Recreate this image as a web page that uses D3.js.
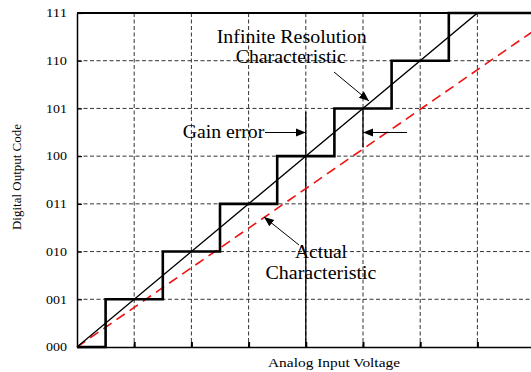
<!DOCTYPE html>
<html>
<head>
<meta charset="utf-8">
<script src="https://cdn.jsdelivr.net/npm/d3@7"></script>
<style>
  body { margin: 0; background: #fff; }
  svg { display: block; font-family: "Liberation Serif", "Times New Roman", serif; }
</style>
</head>
<body>
<svg width="531" height="372"></svg>
<script>
// output codes on the y axis
var codes = ["000", "001", "010", "011", "100", "101", "110", "111"];
// analog input in LSB units, grid at every LSB
var inputTicks = [0, 1, 2, 3, 4, 5, 6, 7, 8];
// ideal quantizer: code changes at half LSB points
var stepEdges = [0.5, 1.5, 2.5, 3.5, 4.5, 5.5, 6.5];
var idealLine = [[0, 0], [7, 7], [8, 7]];
var actualLine = [[0, 0], [8, 6.64]];

var svg = d3.select("svg"),
    width = +svg.attr("width"),
    height = +svg.attr("height");

var x = d3.scaleLinear().domain([0, 8]).range([77, 534.6]);
var y = d3.scaleLinear().domain([0, 7]).range([347, 13]);

// grid
var grid = svg.append("g")
    .attr("stroke", "#333")
    .attr("stroke-width", 1)
    .attr("stroke-dasharray", "4,2.5");

grid.selectAll("line.v")
  .data(inputTicks.slice(1))
  .enter().append("line")
    .attr("class", "v")
    .attr("x1", function(d) { return x(d); })
    .attr("x2", function(d) { return x(d); })
    .attr("y1", y(7))
    .attr("y2", y(0));

grid.selectAll("line.h")
  .data(d3.range(1, 7))
  .enter().append("line")
    .attr("class", "h")
    .attr("x1", x(0))
    .attr("x2", width)
    .attr("y1", function(d) { return y(d); })
    .attr("y2", function(d) { return y(d); });

// axes
var yAxis = d3.axisLeft(y)
    .tickValues(d3.range(0, 8))
    .tickFormat(function(d) { return codes[d]; })
    .tickSizeInner(-5)
    .tickSizeOuter(0)
    .tickPadding(10);

var gy = svg.append("g")
    .attr("transform", "translate(" + x(0) + ",0)")
    .call(yAxis);
gy.select(".domain").attr("stroke", "#000").attr("stroke-width", 1.5);
gy.selectAll(".tick line").attr("stroke", "#000").attr("stroke-width", 1.2);
gy.selectAll(".tick text")
    .attr("font-family", "Liberation Serif, serif")
    .attr("font-size", 12)
    .attr("fill", "#000")
    .attr("textLength", 21)
    .attr("lengthAdjust", "spacingAndGlyphs");

var xAxis = d3.axisBottom(x)
    .tickValues(inputTicks.slice(1))
    .tickFormat("")
    .tickSizeInner(-5)
    .tickSizeOuter(0);

var gx = svg.append("g")
    .attr("transform", "translate(0," + y(0) + ")")
    .call(xAxis);
gx.select(".domain").attr("stroke", "#000").attr("stroke-width", 1.5);
gx.selectAll(".tick line").attr("stroke", "#000").attr("stroke-width", 2);

// top border
svg.append("line")
    .attr("x1", x(0)).attr("x2", width)
    .attr("y1", y(7)).attr("y2", y(7))
    .attr("stroke", "#000")
    .attr("stroke-width", 2);

// solid markers for gain error
svg.append("line")
    .attr("x1", x(4)).attr("x2", x(4))
    .attr("y1", y(4.93)).attr("y2", y(0))
    .attr("stroke", "#000").attr("stroke-width", 1.3);
svg.append("line")
    .attr("x1", x(5)).attr("x2", x(5))
    .attr("y1", y(5)).attr("y2", y(4.18))
    .attr("stroke", "#000").attr("stroke-width", 1.3);

// actual characteristic
var line = d3.line()
    .x(function(d) { return x(d[0]); })
    .y(function(d) { return y(d[1]); });

svg.append("path")
    .datum(actualLine)
    .attr("d", line)
    .attr("fill", "none")
    .attr("stroke", "#ee1111")
    .attr("stroke-width", 1.6)
    .attr("stroke-dasharray", "10,6");

// ideal infinite resolution line
svg.append("path")
    .datum(idealLine)
    .attr("d", line)
    .attr("fill", "none")
    .attr("stroke", "#000")
    .attr("stroke-width", 1.3);

// staircase
var stairs = [[0, 0]];
stepEdges.forEach(function(e, i) {
  stairs.push([e, i + 1]);
});
stairs.push([8, 7]);

svg.append("path")
    .datum(stairs)
    .attr("d", d3.line().curve(d3.curveStepAfter)
        .x(function(d) { return x(d[0]); })
        .y(function(d) { return y(d[1]); }))
    .attr("fill", "none")
    .attr("stroke", "#000")
    .attr("stroke-width", 2.6);

// arrowhead
svg.append("defs").append("marker")
    .attr("id", "arrow")
    .attr("viewBox", "0 0 10 10")
    .attr("refX", 10).attr("refY", 5)
    .attr("markerWidth", 10).attr("markerHeight", 10)
    .attr("markerUnits", "userSpaceOnUse")
    .attr("orient", "auto")
  .append("path")
    .attr("d", "M0,1 L10,5 L0,9 Z")
    .attr("fill", "#000");

function arrow(x1, y1, x2, y2) {
  svg.append("line")
      .attr("x1", x1).attr("y1", y1)
      .attr("x2", x2).attr("y2", y2)
      .attr("stroke", "#000")
      .attr("stroke-width", 1)
      .attr("marker-end", "url(#arrow)");
}

arrow(334, 72, 369, 101);
arrow(299, 245, 264, 217);
arrow(265, 132.5, x(4), 132.5);
arrow(407, 132.5, x(5), 132.5);

// labels
function label(txt, cx, by, len, anchor) {
  svg.append("text")
      .attr("x", cx).attr("y", by)
      .attr("text-anchor", anchor || "middle")
      .attr("font-size", 18)
      .attr("textLength", len)
      .attr("lengthAdjust", "spacingAndGlyphs")
      .attr("fill", "#000")
      .text(txt);
}

label("Infinite Resolution", 291.7, 43, 150);
label("Characteristic", 290.7, 63, 110);
label("Gain error", 182.7, 137.7, 81.6, "start");
label("Actual", 321, 258, 52);
label("Characteristic", 321, 278.5, 111);

svg.append("text")
    .attr("x", 334)
    .attr("y", 367)
    .attr("text-anchor", "middle")
    .attr("font-size", 13)
    .attr("textLength", 132)
    .attr("lengthAdjust", "spacingAndGlyphs")
    .text("Analog Input Voltage");

svg.append("text")
    .attr("transform", "translate(21,177) rotate(-90)")
    .attr("text-anchor", "middle")
    .attr("font-size", 13)
    .attr("textLength", 106)
    .attr("lengthAdjust", "spacingAndGlyphs")
    .text("Digital Output Code");
</script>
</body>
</html>
